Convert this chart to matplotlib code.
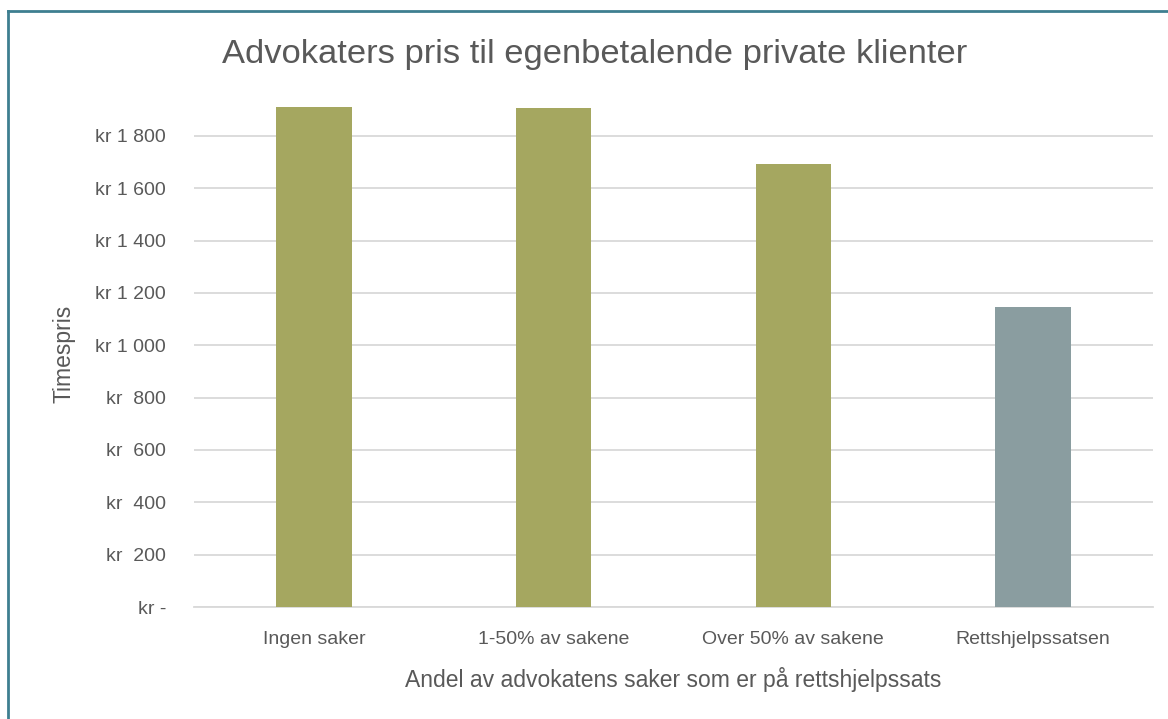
import matplotlib
matplotlib.use("Agg")
import matplotlib.pyplot as plt
from matplotlib.lines import Line2D

categories = ["Ingen saker", "1-50% av sakene", "Over 50% av sakene", "Rettshjelpssatsen"]
prices = [1910, 1905, 1693, 1146]
bar_colors = ["#A5A760", "#A5A760", "#A5A760", "#8A9DA0"]
yticks = [0, 200, 400, 600, 800, 1000, 1200, 1400, 1600, 1800]
ytick_labels = ["kr -", "kr  200", "kr  400", "kr  600", "kr  800",
                "kr 1 000", "kr 1 200", "kr 1 400", "kr 1 600", "kr 1 800"]

plt.rcParams['font.family'] = ['Liberation Sans', 'DejaVu Sans']
text_color = "#595959"

fig = plt.figure(figsize=(11.68, 7.19), dpi=100)
ax = fig.add_axes([194/1168, 1 - 607/719, (1153 - 194)/1168, (607 - 100)/719])

x = range(len(categories))
ax.bar(x, prices, width=0.315, color=bar_colors, zorder=3)

ax.set_xlim(-0.5, len(categories) - 0.5)
ax.set_ylim(0, 1937)
ax.set_yticks(yticks)
ax.set_yticklabels(ytick_labels)
ax.set_xticks(list(x))
ax.set_xticklabels(categories)

ax.grid(axis='y', color="#D9D9D9", linewidth=1.3, zorder=0)
for s in ['top', 'right', 'left']:
    ax.spines[s].set_visible(False)
ax.spines['bottom'].set_color("#D9D9D9")
ax.spines['bottom'].set_linewidth(1.3)
ax.tick_params(axis='both', length=0, labelsize=14, colors=text_color)
ax.tick_params(axis='y', pad=20)
ax.tick_params(axis='x', pad=17)

ax.set_xlabel("Andel av advokatens saker som er på rettshjelpssats", fontsize=16.5,
              color=text_color, labelpad=14)
ax.set_ylabel("Timespris", fontsize=16.5, color=text_color, labelpad=14)

fig.text(595/1168, 1 - 55/719, "Advokaters pris til egenbetalende private klienter",
         ha='center', va='center', fontsize=24.8, color=text_color)

# chart frame (only top and left edges visible in the reference)
fig.add_artist(Line2D([8/1168, 8/1168], [0, 1 - 11/719], transform=fig.transFigure,
                      color="#3E7F90", linewidth=2))
fig.add_artist(Line2D([8/1168, 1], [1 - 11/719, 1 - 11/719], transform=fig.transFigure,
                      color="#3E7F90", linewidth=2))

fig.savefig("out.png", dpi=100)
